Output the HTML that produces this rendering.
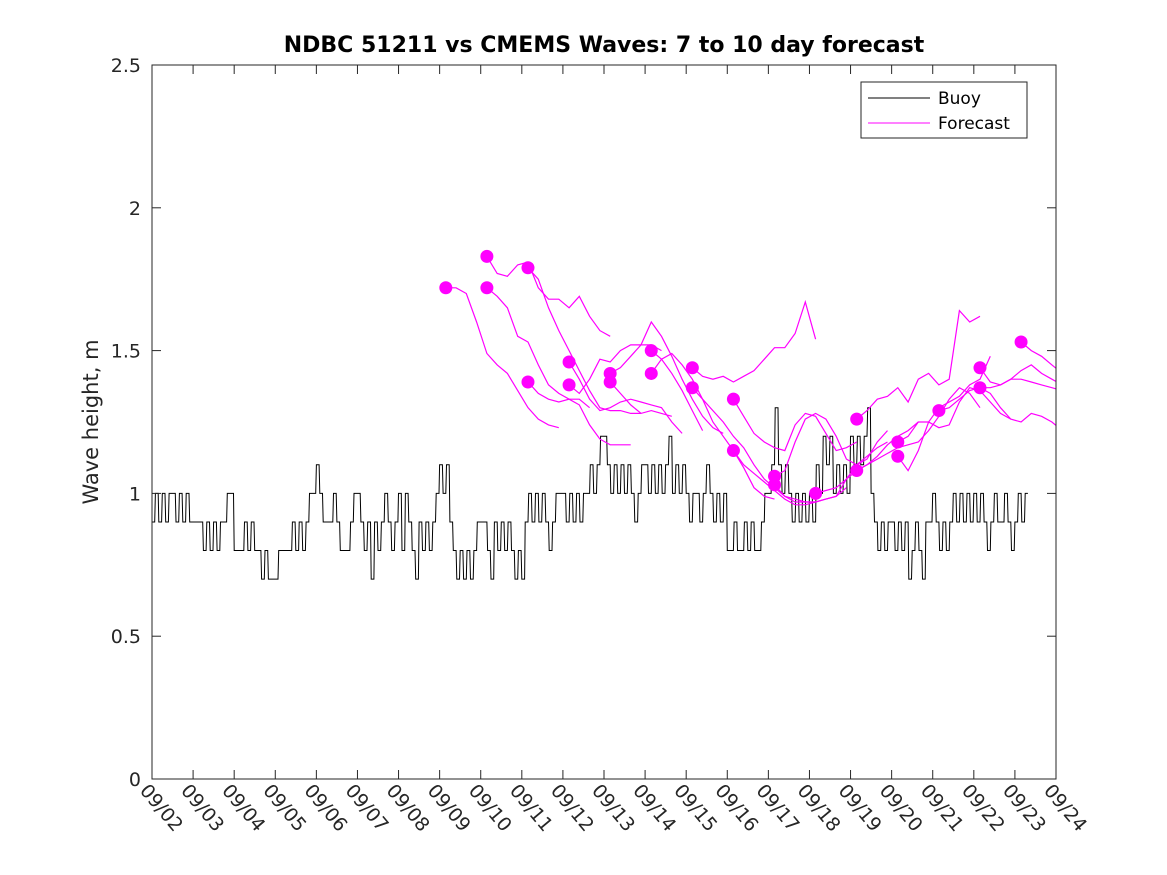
<!DOCTYPE html>
<html><head><meta charset="utf-8"><style>
body{margin:0;background:#fff;}
svg{display:block;font-family:"DejaVu Sans","Liberation Sans",sans-serif;}
</style></head><body>
<svg id="chart" width="1167" height="875" viewBox="0 0 1167 875" xmlns="http://www.w3.org/2000/svg">
<rect width="1167" height="875" fill="#fff"/>
<text x="604" y="52" text-anchor="middle" font-size="22" font-weight="bold" fill="#000">NDBC 51211 vs CMEMS Waves: 7 to 10 day forecast</text>
<text transform="translate(98,422) rotate(-90)" text-anchor="middle" font-size="21" fill="#262626">Wave height, m</text>
<defs><clipPath id="plotclip"><rect x="152" y="65" width="904" height="714"/></clipPath></defs>
<g id="series" clip-path="url(#plotclip)"></g>
<g id="axes"></g>
<g>
<rect x="861" y="82" width="166" height="56" fill="#fff" stroke="#262626" stroke-width="1"/>
<line x1="868" y1="98" x2="930" y2="98" stroke="#000" stroke-width="1"/>
<text x="938" y="104" font-size="17" fill="#000">Buoy</text>
<line x1="868" y1="123" x2="930" y2="123" stroke="#f0f" stroke-width="1"/>
<text x="938" y="129" font-size="17" fill="#000">Forecast</text>
</g>
</svg>
<script>
const xTickLabels=["09/02","09/03","09/04","09/05","09/06","09/07","09/08","09/09","09/10","09/11","09/12","09/13","09/14","09/15","09/16","09/17","09/18","09/19","09/20","09/21","09/22","09/23","09/24"];
const yTicks=[0,0.5,1,1.5,2,2.5];
const yTickLabels=["0","0.5","1","1.5","2","2.5"];
// buoy: tenths of metres, 2-hour steps starting 09/02 00:00
const buoyTenths=[
9,10,9,10,9,10,10,9,10,9,10,9,
9,9,9,8,9,8,9,8,9,9,10,10,
8,8,8,9,8,9,8,8,7,8,7,7,
7,8,8,8,8,9,8,9,8,9,10,10,
11,10,9,9,9,10,9,8,8,8,9,10,
10,9,8,9,7,9,8,9,10,9,8,9,
10,8,10,9,8,7,9,8,9,8,9,10,
11,10,11,9,8,7,8,7,8,7,8,9,
9,9,8,7,9,8,9,8,9,8,7,8,
7,9,10,9,10,9,10,9,8,9,10,10,
10,9,10,9,10,9,10,10,11,10,11,12,
12,11,10,11,10,11,10,11,10,9,10,11,
11,10,11,10,11,10,11,12,10,11,10,11,
10,9,10,10,9,10,11,10,9,10,9,10,
8,8,9,8,8,9,8,9,8,8,9,10,
10,11,13,11,10,11,10,9,10,9,10,9,
10,9,11,10,12,11,12,10,11,10,11,10,
12,11,12,11,12,13,10,9,8,9,8,9,
9,8,9,8,9,7,8,9,8,7,9,9,
10,9,8,9,8,9,10,9,10,9,10,9,
10,9,10,9,8,9,10,9,9,10,9,8,
9,10,9,10];
// forecasts: start day offset (days since 09/02), values at 6-hour steps
const fcStarts=[7.15,8.15,8.15,9.15,9.15,10.15,10.15,11.15,11.15,12.15,12.15,13.15,13.15,14.15,14.15,15.15,15.15,16.15,17.15,17.15,18.15,18.15,19.15,20.15,20.15,21.15];
const fcValues=[
[1.72,1.72,1.70,1.60,1.49,1.45,1.42,1.36,1.30,1.26,1.24,1.23],
[1.83,1.77,1.76,1.80,1.81,1.72,1.68,1.68,1.65,1.69,1.62,1.57,1.55],
[1.72,1.69,1.65,1.55,1.53,1.45,1.38,1.35,1.33,1.33,1.30],
[1.79,1.75,1.65,1.57,1.50,1.43,1.36,1.30,1.29,1.29,1.28,1.28],
[1.39,1.35,1.33,1.32,1.33,1.31,1.24,1.19,1.17,1.17,1.17],
[1.46,1.40,1.33,1.29,1.30,1.32,1.33,1.32,1.31,1.30,1.25,1.21],
[1.38,1.35,1.40,1.47,1.46,1.50,1.52,1.52,1.52,1.50],
[1.42,1.44,1.48,1.52,1.60,1.55,1.48,1.40,1.33,1.27,1.23,1.21],
[1.39,1.35,1.31,1.28,1.29,1.28,1.27],
[1.50,1.47,1.42,1.36,1.29,1.22],
[1.42,1.47,1.49,1.45,1.40,1.33,1.25,1.20,1.15,1.09,1.02,0.99,0.98],
[1.44,1.41,1.40,1.41,1.39,1.41,1.43,1.47,1.51,1.51,1.56,1.67,1.54],
[1.37,1.33,1.29,1.25,1.20,1.16,1.10,1.05,1.02,0.99,0.98,0.97,0.97],
[1.33,1.27,1.21,1.18,1.16,1.15,1.24,1.28,1.27,1.21,1.15,1.16,1.18],
[1.15,1.10,1.07,1.04,1.01,0.98,0.96,0.96,0.97,0.98,0.99,1.02],
[1.06,1.08,1.18,1.26,1.28,1.26,1.20,1.12,1.10,1.12,1.18,1.22],
[1.03,0.99,0.97,0.97,0.97,0.98,0.99,1.05,1.10,1.13,1.16,1.18],
[1.00,1.01,1.02,1.05,1.08,1.10,1.13,1.17,1.20,1.22,1.25],
[1.26,1.29,1.33,1.34,1.37,1.32,1.40,1.42,1.38,1.40,1.64,1.60,1.62],
[1.08,1.10,1.12,1.14,1.16,1.17,1.18,1.22,1.27,1.33,1.37,1.35,1.30],
[1.18,1.20,1.25,1.25,1.23,1.24,1.32,1.37,1.36,1.32,1.28,1.26],
[1.13,1.08,1.15,1.25,1.30,1.32,1.34,1.38,1.40,1.48],
[1.29,1.30,1.33,1.36,1.37,1.35,1.30,1.26,1.25,1.28,1.27,1.25,1.22,1.20],
[1.44,1.39,1.38,1.40,1.43,1.45,1.42,1.40,1.38,1.36,1.35],
[1.37,1.37,1.38,1.40,1.40,1.39,1.38,1.37,1.36,1.35,1.34],
[1.53,1.50,1.48,1.45,1.42]];

const X0=152,X1=1056,Y0=779,Y1=65,DAYS=22;
function xs(d){return X0+(X1-X0)*d/DAYS;}
function ys(v){return Y0-(Y0-Y1)*v/2.5;}
const NS="http://www.w3.org/2000/svg";
function mk(tag,attrs,parent){const e=document.createElementNS(NS,tag);for(const k in attrs)e.setAttribute(k,attrs[k]);parent.appendChild(e);return e;}
const series=document.getElementById('series');
const axes=document.getElementById('axes');

// buoy (step-like, as hourly data appears)
let pts=[];
buoyTenths.forEach((t,i)=>{
  const xa=xs(i/12), xb=xs((i+0.8)/12), y=ys(t/10);
  pts.push(xa.toFixed(1)+","+y.toFixed(1));
  pts.push(xb.toFixed(1)+","+y.toFixed(1));
});
const buoy=mk('polyline',{points:pts.join(" "),fill:"none",stroke:"#000","stroke-width":1},series);



// forecasts
fcValues.forEach((vals,k)=>{
  const s=fcStarts[k];
  const p=vals.map((v,i)=>xs(s+i*0.25).toFixed(1)+","+ys(v).toFixed(1)).join(" ");
  const pl=mk('polyline',{points:p,fill:"none",stroke:"#f0f","stroke-width":1.2},series);
  
  
});
fcValues.forEach((vals,k)=>{
  const c=mk('circle',{cx:xs(fcStarts[k]),cy:ys(vals[0]),r:6.5,fill:"#f0f"},series);
  
  
});

// frame
const fr=mk('rect',{x:X0,y:Y1,width:X1-X0,height:Y0-Y1,fill:"none",stroke:"#262626","stroke-width":1},axes);


// y ticks
yTicks.forEach((v,i)=>{
  const y=ys(v);
  mk('line',{x1:X0,y1:y,x2:X0+9,y2:y,stroke:"#262626"},axes);
  mk('line',{x1:X1,y1:y,x2:X1-9,y2:y,stroke:"#262626"},axes);
  const t=mk('text',{x:X0-11,y:y+7,"text-anchor":"end","font-size":19,fill:"#262626"},axes);
  t.textContent=yTickLabels[i];
  
  
});
// x ticks
xTickLabels.forEach((lab,i)=>{
  const x=xs(i);
  mk('line',{x1:x,y1:Y0,x2:x,y2:Y0-9,stroke:"#262626"},axes);
  mk('line',{x1:x,y1:Y1,x2:x,y2:Y1+9,stroke:"#262626"},axes);
  const t=mk('text',{x:0,y:0,"font-size":19,fill:"#262626",transform:"translate("+(x-13)+","+(Y0+12)+") rotate(50)"},axes);
  t.textContent=lab;
  
  
});
</script>
</body></html>
